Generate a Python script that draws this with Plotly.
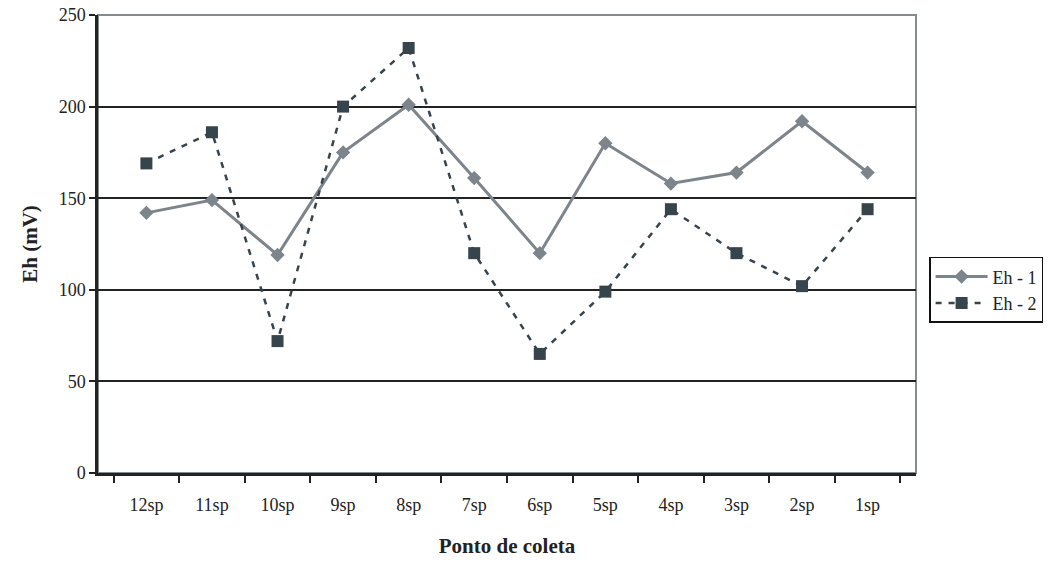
import plotly.graph_objects as go

categories = ["12sp", "11sp", "10sp", "9sp", "8sp", "7sp", "6sp", "5sp", "4sp", "3sp", "2sp", "1sp"]
eh1 = [142, 149, 119, 175, 201, 161, 120, 180, 158, 164, 192, 164]
eh2 = [169, 186, 72, 200, 232, 120, 65, 99, 144, 120, 102, 144]
y_ticks = [0, 50, 100, 150, 200, 250]

FONT = "Times New Roman"

fig = go.Figure()
fig.add_trace(go.Scatter(
    x=categories, y=eh1, name="Eh - 1", mode="lines+markers",
    line=dict(color="#7d848b", width=3),
    marker=dict(symbol="diamond", size=11, color="#7d848b"),
))
fig.add_trace(go.Scatter(
    x=categories, y=eh2, name="Eh - 2", mode="lines+markers",
    line=dict(color="#36444c", width=2.5, dash="6px,7px"),
    marker=dict(symbol="square", size=12, color="#36444c"),
))

fig.add_shape(type="rect", xref="paper", yref="paper", x0=0, x1=1, y0=0, y1=1,
              line=dict(color="#848b91", width=2), layer="below")

fig.update_layout(
    width=1060, height=565,
    margin=dict(l=98, r=144, t=15, b=92),
    paper_bgcolor="white", plot_bgcolor="white",
    font=dict(family=FONT, size=18, color="#222"),
    showlegend=True,
    legend=dict(
        x=1.016, y=0.40, xanchor="left", yanchor="middle",
        bordercolor="#111", borderwidth=1.5, bgcolor="white",
        font=dict(family=FONT, size=18, color="#222"),
        tracegroupgap=0, itemwidth=52,
    ),
    xaxis=dict(
        title=dict(text="<b>Ponto de coleta</b>", font=dict(family=FONT, size=21, color="#222"), standoff=24),
        type="category", tickson="boundaries", ticks="outside", ticklen=7, tickwidth=2, tickcolor="#222",
        ticklabelstandoff=14, automargin=False,
        showline=True, linecolor="#222", linewidth=2.5, showgrid=False, zeroline=False,
        tickfont=dict(family=FONT, size=18, color="#222"),
    ),
    yaxis=dict(
        title=dict(text="<b>Eh (mV)</b>", font=dict(family=FONT, size=21, color="#222"), standoff=16),
        range=[0, 250], tickvals=y_ticks, ticks="outside", ticklen=6, tickwidth=2, tickcolor="#222",
        automargin=False,
        showline=True, linecolor="#222", linewidth=2.5,
        showgrid=True, gridcolor="#222", gridwidth=2, zeroline=False,
        tickfont=dict(family=FONT, size=18, color="#222"),
    ),
)

fig.write_html("out.html")
